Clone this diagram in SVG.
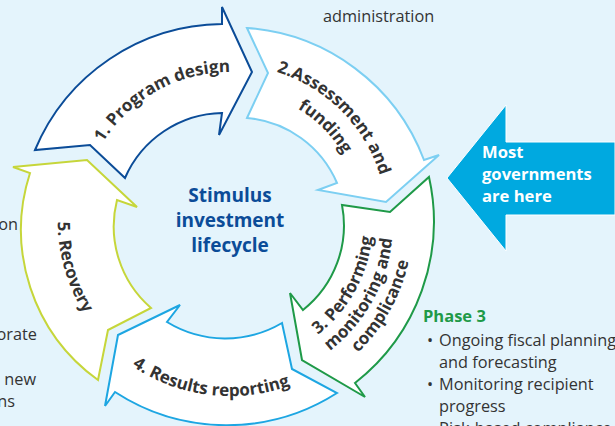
<svg xmlns="http://www.w3.org/2000/svg" width="615" height="426" viewBox="0 0 615 426">
  <style>
    .arrow { fill: #ffffff; stroke-width: 2; stroke-linejoin: miter; }
    .lbl { font-family: "Open Sans", "Liberation Sans", sans-serif; font-weight: bold; font-size: 17px; fill: #333333; }
    .body { font-family: "Open Sans", "Liberation Sans", sans-serif; font-size: 16.3px; fill: #333333; }
    .centre { font-family: "Open Sans", "Liberation Sans", sans-serif; font-weight: bold; font-size: 19px; fill: #0B4C98; text-anchor: middle; }
    .most { font-family: "Open Sans", "Liberation Sans", sans-serif; font-weight: bold; font-size: 16.6px; fill: #ffffff; }
    .phase { font-family: "Open Sans", "Liberation Sans", sans-serif; font-weight: bold; font-size: 16.5px; fill: #1F9A48; }
  </style>
  <defs>
    <!-- baselines for the curved stage labels, all around the cycle centre (230,222) -->
    <path id="p1" d="M 88.2,270.8 A 150 150 0 0 1 346.6,127.6"/>
    <path id="p2a" d="M 139.9,93.4 A 157 157 0 0 1 358.6,312.1"/>
    <path id="p2b" d="M 154.3,113.8 A 132 132 0 0 1 338.1,297.7"/>
    <path id="p3a" d="M 183.4,357.2 A 143 143 0 0 0 320.0,110.9"/>
    <path id="p3b" d="M 176.9,376.1 A 163 163 0 0 0 332.6,95.3"/>
    <path id="p3c" d="M 170.4,395.0 A 183 183 0 0 0 345.2,79.8"/>
    <path id="p4" d="M 56.2,231.1 A 174 174 0 0 0 396.4,272.9"/>
    <path id="p5" d="M 154.6,67.4 A 172 172 0 0 0 248.0,393.1"/>
  </defs>

  <rect x="0" y="0" width="615" height="426" fill="#E4F4FC"/>

  <!-- side notes -->
  <g id="notes">
    <text class="body" x="323" y="22">administration</text>
    <text class="body" x="18" y="230" text-anchor="end">on</text>
    <text class="body" x="37" y="340" text-anchor="end">orate</text>
    <text class="body" x="36" y="385" text-anchor="end">new</text>
    <text class="body" x="15" y="407" text-anchor="end">ns</text>
  </g>

  <g id="connectors">
    <!-- 1. Program design -->
    <g id="stage1">
      <path class="arrow" stroke="#0B4C98" d="M 35,150 A 205 205 0 0 1 222,24 L 222,7 L 252,72 L 219,135 L 222,113 A 108 108 0 0 0 125,178 L 90,145 Z"/>
      <text class="lbl"><textPath href="#p1" startOffset="50%" text-anchor="middle">1. Program design</textPath></text>
    </g>
    <!-- 2. Assessment and funding -->
    <g id="stage2">
      <path class="arrow" stroke="#7CCFF2" d="M 247,28 A 205 205 0 0 1 424,160 L 439,155 L 386,202 L 318,190 L 337,183 A 108 108 0 0 0 247,118 L 268,73 Z"/>
      <text class="lbl"><textPath href="#p2a" startOffset="50%" text-anchor="middle">2.Assessment and</textPath></text>
      <text class="lbl"><textPath href="#p2b" startOffset="50%" text-anchor="middle">funding</textPath></text>
    </g>
    <!-- 3. Performing monitoring and complicance -->
    <g id="stage3">
      <path class="arrow" stroke="#1F9A48" d="M 429,177 A 205 205 0 0 1 355,383 L 365,397 L 302,360 L 290,293 L 303,310 A 108 108 0 0 0 342,205 L 390,212 Z"/>
      <text class="lbl"><textPath href="#p3a" startOffset="50%" text-anchor="middle">3. Performing</textPath></text>
      <text class="lbl"><textPath href="#p3b" startOffset="50%" text-anchor="middle">monitoring and</textPath></text>
      <text class="lbl"><textPath href="#p3c" startOffset="50%" text-anchor="middle">complicance</textPath></text>
    </g>
    <!-- 4. Results reporting -->
    <g id="stage4">
      <path class="arrow" stroke="#1DA6E2" d="M 337,393 A 205 205 0 0 1 115,392 L 105,406 L 118,335 L 180,305 L 167,322 A 112 112 0 0 0 282,323 L 292,369 Z"/>
      <text class="lbl"><textPath href="#p4" startOffset="50%" text-anchor="middle">4. Results reporting</textPath></text>
    </g>
    <!-- 5. Recovery -->
    <g id="stage5">
      <path class="arrow" stroke="#C6D63A" d="M 98,380 A 185 185 0 0 1 30,173 L 13,167 L 87,160 L 137,207 L 117,200 A 108 108 0 0 0 151,308 L 108,330 Z"/>
      <text class="lbl"><textPath href="#p5" startOffset="50%" text-anchor="middle">5. Recovery</textPath></text>
    </g>
  </g>

  <g id="centre">
    <text class="centre" x="230" y="202">Stimulus</text>
    <text class="centre" x="230" y="227">investment</text>
    <text class="centre" x="230" y="252">lifecycle</text>
  </g>

  <g id="most-governments">
    <polygon points="447,178 506,105 506,142 615,142 615,215 506,215 506,251" fill="#00A9E0" stroke="#ffffff" stroke-width="1"/>
    <text class="most" x="482" y="158">Most</text>
    <text class="most" x="482" y="180">governments</text>
    <text class="most" x="482" y="202">are here</text>
  </g>

  <g id="phase3">
    <text class="phase" x="423" y="322">Phase 3</text>
    <text class="body" x="427" y="346">•</text>
    <text class="body" x="439" y="346">Ongoing fiscal planning</text>
    <text class="body" x="439" y="368">and forecasting</text>
    <text class="body" x="427" y="390">•</text>
    <text class="body" x="439" y="390">Monitoring recipient</text>
    <text class="body" x="439" y="412">progress</text>
    <text class="body" x="427" y="434">•</text>
    <text class="body" x="439" y="434">Risk-based compliance</text>
  </g>
</svg>
